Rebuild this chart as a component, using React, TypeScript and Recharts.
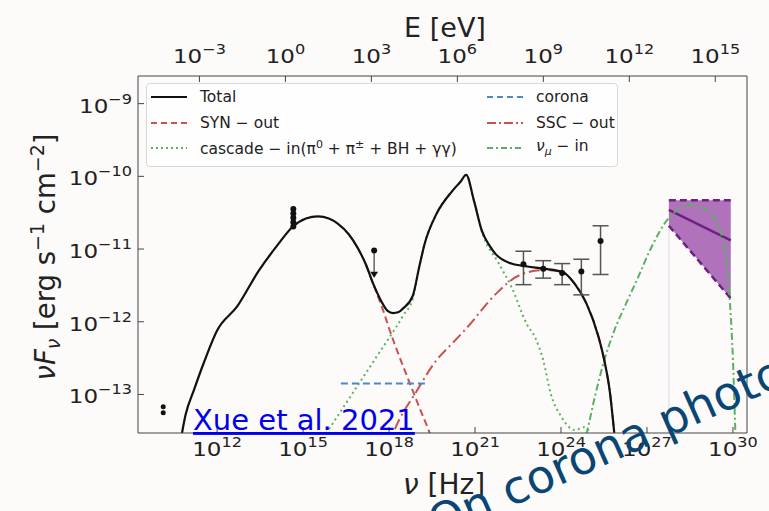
import React from "react";
import {
  ComposedChart,
  Line,
  Area,
  Scatter,
  ErrorBar,
  XAxis,
  YAxis,
} from "recharts";

const W = 769;
const H = 511;
const FONT = "'DejaVu Sans', sans-serif";

// all values are log10: x = log10(nu / Hz) or log10(E / eV), y = log10(nuF_nu / erg s^-1 cm^-2)
const X_DOMAIN = [9.24, 30.49];
const Y_DOMAIN = [-13.53, -8.62];
const EV_TO_HZ = 14.3836; // log10(1 eV / h)

const nuTicks = [12, 15, 18, 21, 24, 27, 30];
const eTicks = [-3, 0, 3, 6, 9, 12, 15];
const fluxTicks = [-13, -12, -11, -10, -9];
const fluxDecades = [-14, -13, -12, -11, -10, -9];
const minorSteps = [2, 3, 4, 5, 6, 7, 8, 9];

const totalNu = [10.7, 10.9, 11.2, 11.55, 12.0, 12.7, 13.45, 14.1, 14.62, 15.1, 15.52, 15.9, 16.21, 16.6, 16.9, 17.2, 17.45, 17.72, 17.95, 18.14, 18.32, 18.48, 18.83, 19.05, 19.24, 19.65, 20.21, 20.5, 20.69, 20.96, 21.24, 21.5, 21.72, 22.27, 22.83, 23.38, 24.07, 24.48, 24.89, 25.31, 25.51, 25.7, 25.9];
const totalFlux = [-13.7, -13.28, -12.93, -12.55, -12.12, -11.79, -11.3, -10.95, -10.7, -10.58, -10.55, -10.58, -10.65, -10.8, -10.98, -11.22, -11.48, -11.71, -11.85, -11.88, -11.87, -11.82, -11.64, -11.25, -10.93, -10.52, -10.2, -10.07, -9.98, -10.33, -10.75, -10.95, -11.07, -11.2, -11.24, -11.27, -11.32, -11.48, -11.75, -12.21, -12.53, -12.95, -13.7];

const synNu = [17.2, 17.45, 17.58, 17.8, 18.0, 18.41, 18.83, 19.1, 19.38, 19.5];
const synFlux = [-11.22, -11.48, -11.62, -11.85, -12.09, -12.53, -12.95, -13.22, -13.49, -13.62];

const cascadeNu = [15.6, 16.5, 17.5, 18.5, 18.83, 19.05, 19.24, 19.65, 20.21, 20.5, 20.69, 20.96, 21.24, 21.31, 21.8, 22.27, 22.83, 23.09, 23.38, 23.65, 24.0, 24.49, 24.8, 25.1, 25.3];
const cascadeFlux = [-13.66, -13.12, -12.52, -11.91, -11.68, -11.26, -10.93, -10.52, -10.2, -10.07, -9.98, -10.33, -10.76, -10.84, -11.18, -11.52, -12.05, -12.21, -12.53, -13.0, -13.3, -13.49, -13.45, -13.6, -13.8];

const sscNu = [17.95, 18.14, 18.97, 19.65, 20.2, 20.7, 21.72, 22.55, 23.37, 23.8, 24.07, 24.48, 24.89, 25.31, 25.51, 25.7, 25.9];
const sscFlux = [-13.75, -13.54, -12.95, -12.53, -12.3, -12.09, -11.62, -11.36, -11.29, -11.3, -11.32, -11.48, -11.75, -12.21, -12.53, -12.95, -13.7];

const coronaNu = [16.32, 19.38];
const coronaFlux = [-12.85, -12.85];

const numuNu = [24.75, 24.89, 25.2, 25.51, 25.86, 26.27, 26.7, 27.1, 27.79, 28.2, 28.55, 28.95, 29.3, 29.55, 29.72, 29.83, 29.89, 29.95, 30.0, 30.05, 30.1];
const numuFlux = [-13.75, -13.54, -13.0, -12.53, -12.12, -11.75, -11.38, -11.02, -10.56, -10.43, -10.39, -10.43, -10.54, -10.75, -10.98, -11.35, -11.71, -12.1, -12.53, -13.1, -13.75];

// IceCube neutrino band, in log10(E / eV)
const bandE = [13.38, 15.54];
const bandHigh = [-10.33, -10.33];
const bandLow = [-10.68, -11.68];
const bandBest = [-10.46, -10.88];

const radioNu = [10.12, 10.12];
const radioFlux = [-13.17, -13.25];
const opticalNu = [14.66, 14.66, 14.66, 14.66, 14.66];
const opticalFlux = [-10.45, -10.51, -10.57, -10.63, -10.69];
const xrayNu = [17.48];
const xrayFlux = [-11.02];
const xrayLimit = [-11.38];
const gammaNu = [22.69, 23.38, 24.04, 24.71, 25.38];
const gammaFlux = [-11.21, -11.27, -11.33, -11.31, -10.89];
const gammaLo = [-11.49, -11.4, -11.49, -11.63, -11.35];
const gammaHi = [-11.03, -11.16, -11.2, -11.14, -10.68];

const RED = "#c9524f";
const GREEN = "#5cb062";
const BLUE = "#4b88c6";
const PURPLE = "#6d2180";

const zip = (xs: number[], ys: number[]) => xs.map((x, i) => ({ x, y: ys[i] }));

const total = zip(totalNu, totalFlux);
const syn = zip(synNu, synFlux);
const cascade = zip(cascadeNu, cascadeFlux);
const ssc = zip(sscNu, sscFlux);
const corona = zip(coronaNu, coronaFlux);
const numu = zip(numuNu, numuFlux);
const band = bandE.map((x, i) => ({ x, range: [bandLow[i], bandHigh[i]], lo: bandLow[i], hi: bandHigh[i], y: bandBest[i] }));
const bandEdge = [
  { x: bandE[0], y: bandLow[0] },
  { x: bandE[0], y: Y_DOMAIN[0] },
];
const radio = zip(radioNu, radioFlux);
const optical = zip(opticalNu, opticalFlux);
const xray = xrayNu.map((x, i) => ({ x, y: xrayFlux[i], err: [xrayFlux[i] - xrayLimit[i], 0] }));
const xrayArrow = zip(xrayNu, xrayLimit);
const gamma = gammaNu.map((x, i) => ({ x, y: gammaFlux[i], err: [gammaFlux[i] - gammaLo[i], gammaHi[i] - gammaFlux[i]] }));

const minorFlux = fluxDecades
  .flatMap((d) => minorSteps.map((k) => d + Math.log10(k)))
  .filter((v) => v > Y_DOMAIN[0] && v < Y_DOMAIN[1]);

const expText = (v: number) => {
  const e = Math.round(v);
  return e < 0 ? "\u2212" + Math.abs(e) : String(e);
};

// matplotlib-like 10^n label, slightly widened like the source screenshot
const PowLabel = ({ x, y, anchor, value }: any) => (
  <g transform={`translate(${x},${y}) scale(1.15,1)`}>
    <text x={0} y={0} textAnchor={anchor} fontFamily={FONT} fontSize={20} fill="#222">
      <tspan>10</tspan>
      <tspan dy={-9} fontSize={14}>{expText(value)}</tspan>
    </text>
  </g>
);

const BottomTick = ({ x, y, payload }: any) => <PowLabel x={x} y={y + 29} anchor="middle" value={payload.value} />;
const TopTick = ({ x, y, payload }: any) => <PowLabel x={x} y={y - 19} anchor="middle" value={payload.value} />;
const LeftTick = ({ x, y, payload }: any) => <PowLabel x={x - 12} y={y + 9} anchor="end" value={payload.value} />;

const Dot = (p: any) => <circle cx={p.cx} cy={p.cy} r={3} fill="#111" />;
const SmallDot = (p: any) => <circle cx={p.cx} cy={p.cy} r={2.5} fill="#111" />;
const DownArrow = (p: any) => (
  <path d={`M${p.cx - 4},${p.cy - 5} L${p.cx + 4},${p.cy - 5} L${p.cx},${p.cy + 1} Z`} fill="#111" />
);

const legendRows = [
  { label: "Total", color: "#111", dash: undefined, col: 0, row: 0 },
  { label: "SYN \u2212 out", color: RED, dash: "6 4", col: 0, row: 1 },
  { label: "cascade", color: GREEN, dash: "2 3", col: 0, row: 2 },
  { label: "corona", color: BLUE, dash: "6 4", col: 1, row: 0 },
  { label: "SSC \u2212 out", color: RED, dash: "9 3 2 3", col: 1, row: 1 },
  { label: "numu", color: GREEN, dash: "6 3 2 3", col: 1, row: 2 },
];

const legendLabel = (label: string) => {
  if (label === "cascade")
    return (
      <span>
        cascade {"\u2212"} in({"\u03c0"}<sup style={{ fontSize: 11 }}>0</sup> + {"\u03c0"}
        <sup style={{ fontSize: 11 }}>{"\u00b1"}</sup> + BH + {"\u03b3\u03b3"})
      </span>
    );
  if (label === "numu")
    return (
      <span>
        <i>{"\u03bd"}</i>
        <sub style={{ fontSize: 11 }}>
          <i>{"\u03bc"}</i>
        </sub>{" "}
        {"\u2212"} in
      </span>
    );
  return <span>{label}</span>;
};

const SedLegend = () => (
  <div
    style={{
      position: "absolute",
      left: 146,
      top: 83,
      width: 472,
      height: 84,
      border: "1px solid #d8d8d8",
      borderRadius: 4,
      background: "rgba(255,255,255,0.8)",
      fontFamily: FONT,
      fontSize: 15.5,
      color: "#222",
      boxSizing: "border-box",
    }}
  >
    {legendRows.map((r) => (
      <div
        key={r.label}
        style={{
          position: "absolute",
          left: r.col === 0 ? 4 : 340,
          top: 3 + r.row * 25.5,
          height: 20,
          display: "flex",
          alignItems: "center",
          whiteSpace: "nowrap",
        }}
      >
        <svg width={36} height={10} style={{ marginRight: 13 }}>
          <line x1={0} y1={5} x2={36} y2={5} stroke={r.color} strokeWidth={2} strokeDasharray={r.dash} />
        </svg>
        {legendLabel(r.label)}
      </div>
    ))}
  </div>
);

export default function App() {
  return (
    <div
      style={{
        position: "absolute",
        left: 0,
        top: 0,
        width: W,
        height: H,
        overflow: "hidden",
        background: "#fdfafa",
      }}
    >
      <ComposedChart width={W} height={H} margin={{ top: 75, right: 20, bottom: 77, left: 136 }}>
        <XAxis
          xAxisId="nu"
          type="number"
          dataKey="x"
          domain={X_DOMAIN}
          allowDataOverflow
          ticks={nuTicks}
          interval={0}
          height={1}
          tickSize={-6}
          tickMargin={0}
          tick={<BottomTick />}
          stroke="#444"
        />
        <XAxis
          xAxisId="E"
          orientation="top"
          type="number"
          dataKey="x"
          domain={[X_DOMAIN[0] - EV_TO_HZ, X_DOMAIN[1] - EV_TO_HZ]}
          allowDataOverflow
          ticks={eTicks}
          interval={0}
          height={1}
          tickSize={-6}
          tickMargin={0}
          tick={<TopTick />}
          stroke="#444"
        />
        <YAxis
          yAxisId="f"
          type="number"
          dataKey="y"
          domain={Y_DOMAIN}
          allowDataOverflow
          ticks={fluxTicks}
          interval={0}
          width={1}
          tickSize={-6}
          tickMargin={0}
          tick={<LeftTick />}
          stroke="#444"
        />
        <YAxis
          yAxisId="fm"
          type="number"
          dataKey="y"
          domain={Y_DOMAIN}
          allowDataOverflow
          ticks={minorFlux}
          interval={0}
          width={1}
          tickSize={-3}
          tick={false}
          axisLine={false}
          stroke="#666"
        />
        <YAxis
          yAxisId="r"
          orientation="right"
          type="number"
          dataKey="y"
          domain={Y_DOMAIN}
          allowDataOverflow
          ticks={fluxTicks}
          interval={0}
          width={1}
          tickSize={-6}
          tick={false}
          stroke="#444"
        />
        <YAxis
          yAxisId="rm"
          orientation="right"
          type="number"
          dataKey="y"
          domain={Y_DOMAIN}
          allowDataOverflow
          ticks={minorFlux}
          interval={0}
          width={1}
          tickSize={-3}
          tick={false}
          axisLine={false}
          stroke="#666"
        />

        <Area
          xAxisId="E"
          yAxisId="r"
          data={band}
          dataKey="range"
          type="linear"
          stroke="none"
          fill="#a763b4"
          fillOpacity={0.9}
          isAnimationActive={false}
        />
        <Line xAxisId="E" yAxisId="r" data={bandEdge} dataKey="y" type="linear" stroke="#e4e4ee" strokeWidth={1.5} dot={false} isAnimationActive={false} />
        <Line xAxisId="E" yAxisId="r" data={band} dataKey="hi" type="linear" stroke={PURPLE} strokeWidth={2.5} strokeDasharray="7 4" dot={false} isAnimationActive={false} />
        <Line xAxisId="E" yAxisId="r" data={band} dataKey="lo" type="linear" stroke={PURPLE} strokeWidth={2.5} strokeDasharray="7 4" dot={false} isAnimationActive={false} />
        <Line xAxisId="E" yAxisId="r" data={band} dataKey="y" type="linear" stroke={PURPLE} strokeWidth={2.5} dot={false} isAnimationActive={false} />

        <Line xAxisId="nu" yAxisId="f" data={cascade} dataKey="y" type="monotone" stroke={GREEN} strokeWidth={2} strokeDasharray="2 3.3" dot={false} isAnimationActive={false} />
        <Line xAxisId="nu" yAxisId="rm" data={numu} dataKey="y" type="monotone" stroke={GREEN} strokeWidth={2} strokeDasharray="7 3 2 3" dot={false} isAnimationActive={false} />
        <Line xAxisId="nu" yAxisId="f" data={syn} dataKey="y" type="monotone" stroke={RED} strokeWidth={2} strokeDasharray="7 4" dot={false} isAnimationActive={false} />
        <Line xAxisId="nu" yAxisId="f" data={ssc} dataKey="y" type="monotone" stroke={RED} strokeWidth={2} strokeDasharray="11 4 2 4" dot={false} isAnimationActive={false} />
        <Line xAxisId="nu" yAxisId="f" data={corona} dataKey="y" type="linear" stroke={BLUE} strokeWidth={2} strokeDasharray="7 4" dot={false} isAnimationActive={false} />
        <Line xAxisId="nu" yAxisId="f" data={total} dataKey="y" type="monotone" stroke="#111" strokeWidth={2.2} dot={false} isAnimationActive={false} />

        <Scatter xAxisId="nu" yAxisId="fm" data={radio} dataKey="y" shape={SmallDot} isAnimationActive={false} />
        <Scatter xAxisId="nu" yAxisId="f" data={optical} dataKey="y" shape={Dot} isAnimationActive={false} />
        <Scatter xAxisId="nu" yAxisId="f" data={xray} dataKey="y" shape={Dot} isAnimationActive={false}>
          <ErrorBar dataKey="err" direction="y" width={0} stroke="#666" strokeWidth={1.5} />
        </Scatter>
        <Scatter xAxisId="nu" yAxisId="f" data={xrayArrow} dataKey="y" shape={DownArrow} isAnimationActive={false} />
        <Scatter xAxisId="nu" yAxisId="f" data={gamma} dataKey="y" shape={Dot} isAnimationActive={false}>
          <ErrorBar dataKey="err" direction="y" width={8} stroke="#555" strokeWidth={1.5} />
        </Scatter>
      </ComposedChart>

      <SedLegend />

      <svg width={W} height={H} style={{ position: "absolute", left: 0, top: 0, pointerEvents: "none" }}>
        <text x={445} y={37} textAnchor="middle" fontFamily={FONT} fontSize={27} fill="#222">
          E [eV]
        </text>
        <text x={444} y={494} textAnchor="middle" fontFamily={FONT} fontSize={28} fill="#222">
          <tspan fontStyle="italic">{"\u03bd"}</tspan>
          <tspan> [Hz]</tspan>
        </text>
        <text transform="translate(55,257) rotate(-90)" textAnchor="middle" fontFamily={FONT} fontSize={27.5} fill="#222">
          <tspan fontStyle="italic">{"\u03bdF"}</tspan>
          <tspan fontStyle="italic" fontSize={19} dy={5}>{"\u03bd"}</tspan>
          <tspan dy={-5}> [erg s</tspan>
          <tspan fontSize={19} dy={-11}>{"\u22121"}</tspan>
          <tspan dy={11}> cm</tspan>
          <tspan fontSize={19} dy={-11}>{"\u22122"}</tspan>
          <tspan dy={11}>]</tspan>
        </text>
        <text x={193} y={430} fontFamily={FONT} fontSize={29} fill="#0000ee" textDecoration="underline">
          Xue et al. 2021
        </text>
        <text transform="translate(437,540) rotate(-24)" fontFamily={FONT} fontSize={46} fill="#0a4674">
          On corona photons
        </text>
      </svg>
    </div>
  );
}
